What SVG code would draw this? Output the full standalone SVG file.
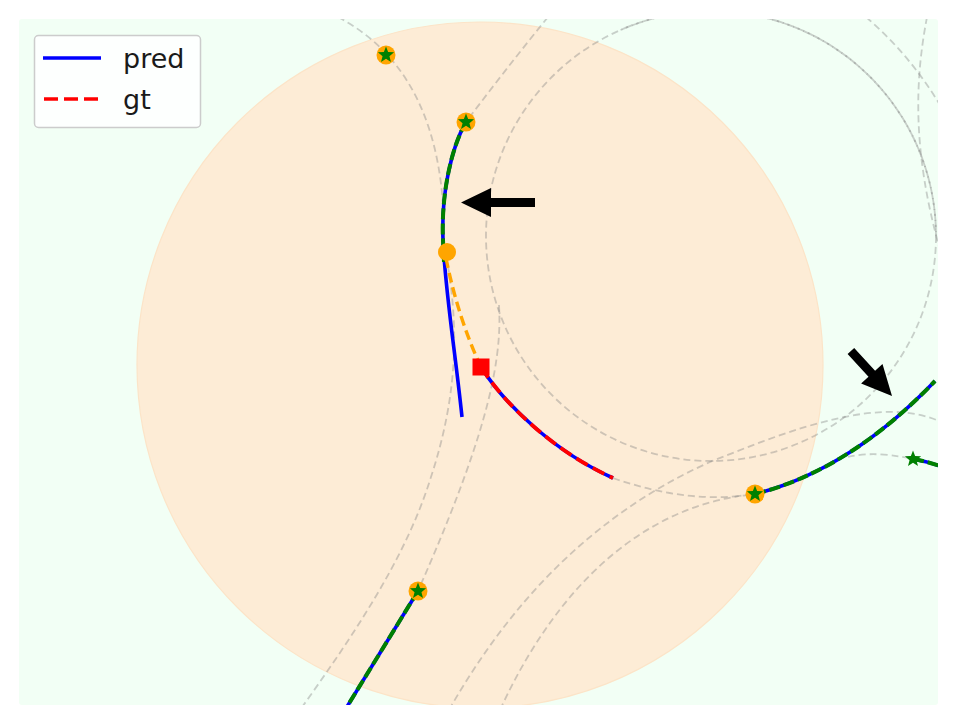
<svg xmlns="http://www.w3.org/2000/svg" width="957" height="724" viewBox="0 0 957 724">
<defs>
<clipPath id="plot"><rect x="19" y="19" width="919" height="686"/></clipPath>
<path id="star" d="M0,-8.5 L2.14,-2.95 L8.08,-2.63 L3.46,1.13 L5,6.88 L0,3.65 L-5,6.88 L-3.46,1.13 L-8.08,-2.63 L-2.14,-2.95 Z"/>
<style>
.lane{fill:none;stroke:#808080;stroke-opacity:0.38;stroke-width:1.8;stroke-dasharray:7,4}
.pred{fill:none;stroke:#0000ff;stroke-width:3.6;stroke-linecap:butt}
.gtg{fill:none;stroke:#008000;stroke-width:4;stroke-dasharray:11,4}
.gtr{fill:none;stroke:#ff0000;stroke-width:3.8;stroke-dasharray:13,6}
.hist{fill:none;stroke:#ffa500;stroke-width:3.4;stroke-dasharray:10,5}
.ring{fill:#ffa500}
.st{fill:#008000}
.arrow{fill:#000000}
.leg{font-family:"DejaVu Sans","Liberation Sans",sans-serif;font-size:27px;fill:#1a1a1a}
</style>
</defs>
<rect x="0" y="0" width="957" height="724" fill="#ffffff"/>
<rect id="plot-bg" x="19" y="19" width="919" height="686" rx="3" fill="#f2fff5"/>
<g clip-path="url(#plot)">
<circle id="range" cx="480" cy="365" r="343" fill="#fdecd6" stroke="#fce4c8" stroke-width="1.2"/>
<g id="lanes">
<circle class="lane" cx="711" cy="236" r="225"/>
<path class="lane" d="M620.5,30 A225,225 0 0 1 936,236" stroke-dashoffset="5"/>
<path class="lane" d="M338,17 C410,55 445,130 444,240"/>
<path class="lane" d="M548,17 Q505,70 466,122"/>
<path class="lane" d="M446,255 C458,320 460,390 430,480 C405,560 350,640 300,710"/>
<path class="lane" d="M499,305 C503,370 480,450 418,591"/>
<path class="lane" d="M613,478 Q690,505 755,494"/>
<path class="lane" d="M500,710 C555,590 640,505 755,494"/>
<path class="lane" d="M449,710 C500,620 580,520 710,462 C790,430 885,392 945,424"/>
<path class="lane" d="M848,457 Q885,448 945,468"/>
<path class="lane" d="M927,17 C915,80 912,150 940,250"/>
<path class="lane" d="M866,17 Q910,55 940,105"/>
</g>
<g id="connectors">
<path class="pred" d="M466,122 C451,148 441,195 443,240 C445,290 455,350 462,417"/>
<path class="gtg" d="M466,122 C451,148 441,195 443,240 Q443.5,252 444,262"/>
<path class="hist" d="M446,258 Q458,318 481,367"/>
<path class="pred" d="M481,367 C505,405 555,452 613,478"/>
<path class="gtr" d="M481,367 C505,405 555,452 613,478"/>
<path class="pred" d="M418,591 L345,710"/>
<path class="gtg" d="M418,591 L345,710"/>
<path class="pred" d="M755,494 Q850,470 935,381"/>
<path class="gtg" d="M755,494 Q850,470 935,381"/>
<path class="pred" d="M913,459 Q930,462 945,468"/>
<path class="gtg" d="M913,459 Q930,462 945,468"/>
</g>
<g id="markers">
<circle class="ring" cx="386" cy="55" r="9.5"/><use href="#star" class="st" x="386" y="55"/>
<circle class="ring" cx="466" cy="122" r="9.5"/><use href="#star" class="st" x="466" y="122"/>
<circle class="ring" cx="418" cy="591" r="9.5"/><use href="#star" class="st" x="418" y="591"/>
<circle class="ring" cx="755" cy="494" r="9.5"/><use href="#star" class="st" x="755" y="494"/>
<use href="#star" class="st" x="913" y="459"/>
<circle id="current" class="ring" cx="447" cy="252" r="9"/>
<rect id="target" x="472.5" y="358.5" width="17" height="17" fill="#ff0000"/>
</g>
</g>
<g id="arrow-left"><polygon class="arrow" points="461,202.5 491,188 491,198 535,198 535,207 491,207 491,217"/></g>
<g id="arrow-right"><polygon class="arrow" points="892,396 861.1,383.6 868.5,376.8 847.6,353.9 854.2,347.9 875.1,370.8 882.5,364"/></g>
<g id="legend">
<rect x="34.5" y="35.5" width="166" height="92" rx="4" fill="#ffffff" fill-opacity="0.85" stroke="#cccccc" stroke-width="1.5"/>
<line x1="43" y1="58" x2="101" y2="58" stroke="#0000ff" stroke-width="3.4"/>
<text class="leg" x="123" y="68">pred</text>
<line x1="44" y1="99" x2="101" y2="99" stroke="#ff0000" stroke-width="3.4" stroke-dasharray="14,6"/>
<text class="leg" x="123" y="109">gt</text>
</g>
</svg>
